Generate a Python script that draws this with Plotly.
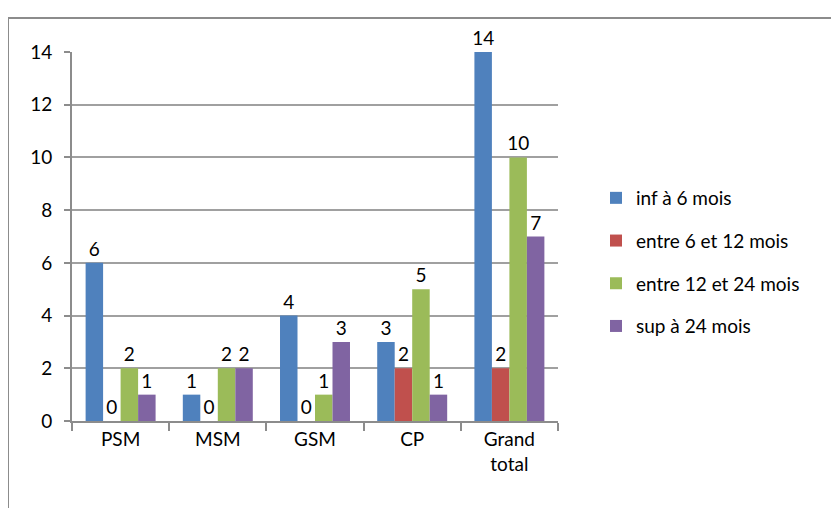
import plotly.graph_objects as go

categories = ["PSM", "MSM", "GSM", "CP", "Grand<br>total"]
series_names = ["inf à 6 mois", "entre 6 et 12 mois", "entre 12 et 24 mois", "sup à 24 mois"]
inf_6 = [6, 1, 4, 3, 14]
entre_6_12 = [0, 0, 0, 2, 2]
entre_12_24 = [2, 2, 1, 5, 10]
sup_24 = [1, 2, 3, 1, 7]
colors = ["#4F81BD", "#C0504D", "#9BBB59", "#8064A2"]
y_ticks = [0, 2, 4, 6, 8, 10, 12, 14]

FONT = "Lato"
FS = 19
fig = go.Figure()
for i, (name, vals) in enumerate(zip(series_names, [inf_6, entre_6_12, entre_12_24, sup_24])):
    fig.add_trace(go.Bar(
        x=categories, y=vals, name=name,
        marker=dict(color=colors[i], line=dict(width=0)),
        text=[str(v) for v in vals], textposition="outside",
        textfont=dict(size=FS, color="#000000", family=FONT),
        constraintext="none",
        cliponaxis=False, legendgroup=name,
    ))

# page is offset by 8px body margin
L, T = 64, 44
PW, PH = 486, 369
R = 839 - L - PW
B = 508 - T - PH
fig.update_layout(
    width=839, height=508,
    margin=dict(l=L, r=R, t=T, b=B, autoexpand=False),
    paper_bgcolor="white", plot_bgcolor="white",
    barmode="group", bargap=0.28, bargroupgap=0,
    font=dict(family=FONT, size=FS, color="#000000"),
    legend=dict(x=(588 - L) / PW, y=(413 - 254) / PH, xanchor="left", yanchor="middle",
                font=dict(size=FS, family=FONT), tracegroupgap=15,
                traceorder="grouped", itemwidth=30),
    showlegend=True,
    xaxis=dict(showline=True, linecolor="#8c8c8c", linewidth=2,
               ticks="outside", tickson="boundaries", ticklen=8,
               tickcolor="#8c8c8c", tickwidth=2,
               tickfont=dict(size=FS, family=FONT)),
    yaxis=dict(range=[0, 14], tickvals=y_ticks, showgrid=True,
               gridcolor="#a0a0a0", gridwidth=2,
               showline=True, linecolor="#8c8c8c", linewidth=2,
               ticks="outside", ticklen=6, tickcolor="#8c8c8c", tickwidth=2,
               ticklabelstandoff=8,
               tickfont=dict(size=FS, family=FONT), zeroline=False),
    shapes=[dict(type="rect", xref="paper", yref="paper",
                 x0=(0 - L) / PW, x1=(860 - L) / PW,
                 y0=(413 - 530) / PH, y1=(413 - 10) / PH,
                 line=dict(color="#8c8c8c", width=2), layer="below")],
)
fig.write_html("out.html")
